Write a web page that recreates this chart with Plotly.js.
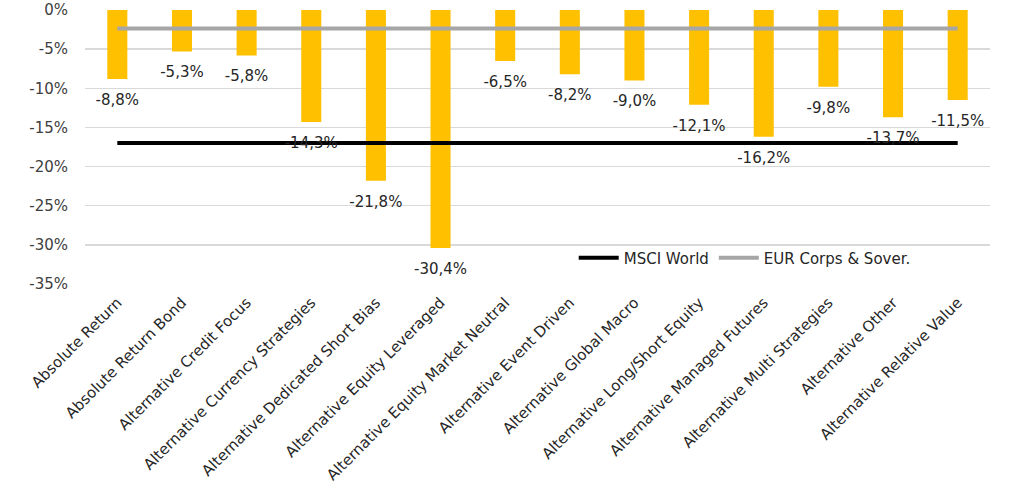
<!DOCTYPE html>
<html>
<head>
<meta charset="utf-8">
<script src="https://cdn.plot.ly/plotly-3.0.1.min.js"></script>
<style>
  html, body { margin: 0; padding: 0; background: #fff; }
  #chart { width: 1015px; height: 494px; }
</style>
</head>
<body>
<div id="chart"></div>
<script>
// categories and values
const categories = [
  'Absolute Return',
  'Absolute Return Bond',
  'Alternative Credit Focus',
  'Alternative Currency Strategies',
  'Alternative Dedicated Short Bias',
  'Alternative Equity Leveraged',
  'Alternative Equity Market Neutral',
  'Alternative Event Driven',
  'Alternative Global Macro',
  'Alternative Long/Short Equity',
  'Alternative Managed Futures',
  'Alternative Multi Strategies',
  'Alternative Other',
  'Alternative Relative Value'
]
const fundReturns = [-0.088, -0.053, -0.058, -0.143, -0.218, -0.304, -0.065, -0.082, -0.090, -0.121, -0.162, -0.098, -0.137, -0.115]
const msciWorld = -0.170
const eurCorpsSover = -0.0235

const tickValues = [0, -0.05, -0.10, -0.15, -0.20, -0.25, -0.30, -0.35]
const tickLabels = ['0%', '-5%', '-10%', '-15%', '-20%', '-25%', '-30%', '-35%']

const font = '"DejaVu Sans", "Open Sans", sans-serif'

const data = [
  {
    type: 'bar',
    x: categories,
    y: fundReturns,
    marker: { color: '#ffc000' },
    showlegend: false,
    hoverinfo: 'x+y'
  },
  {
    type: 'scatter',
    mode: 'lines',
    name: 'MSCI World',
    x: categories,
    y: categories.map(() => msciWorld),
    line: { color: '#000000', width: 4 }
  },
  {
    type: 'scatter',
    mode: 'lines',
    name: 'EUR Corps & Sover.',
    x: categories,
    y: categories.map(() => eurCorpsSover),
    line: { color: '#a6a6a6', width: 4 }
  },
  // value labels under the bars
  {
    type: 'scatter',
    mode: 'markers+text',
    x: categories,
    y: fundReturns,
    marker: { size: 22, opacity: 0 },
    texttemplate: '%{y:.1%}',
    textposition: 'bottom center',
    textfont: { family: font, size: 15, color: '#262626' },
    cliponaxis: false,
    showlegend: false,
    hoverinfo: 'skip'
  }
]

const layout = {
  width: 1015,
  height: 494,
  margin: { l: 85, r: 25, t: 10, b: 210 },
  paper_bgcolor: '#ffffff',
  plot_bgcolor: '#ffffff',
  separators: ',.',
  font: { family: font, size: 15, color: '#404040' },
  bargap: 0.69,
  xaxis: {
    type: 'category',
    range: [-0.5, categories.length - 0.5],
    automargin: false,
    tickangle: -45,
    showgrid: false,
    showline: false,
    ticks: '',
    ticklabelstandoff: 6,
    tickfont: { family: font, size: 15, color: '#262626' }
  },
  yaxis: {
    range: [-0.35, 0],
    automargin: false,
    tickvals: tickValues,
    ticktext: tickLabels,
    showgrid: true,
    gridcolor: '#d9d9d9',
    gridwidth: 1.5,
    zeroline: false,
    showline: false,
    ticks: '',
    ticklabelstandoff: 16,
    tickfont: { family: font, size: 15, color: '#404040' }
  },
  legend: {
    orientation: 'h',
    x: 0.54,
    xanchor: 'left',
    y: 0.095,
    yanchor: 'middle',
    bgcolor: 'rgba(0,0,0,0)',
    font: { family: font, size: 15, color: '#262626' },
    itemwidth: 40
  }
}

Plotly.newPlot('chart', data, layout, { displayModeBar: false, staticPlot: true })
</script>
</body>
</html>
